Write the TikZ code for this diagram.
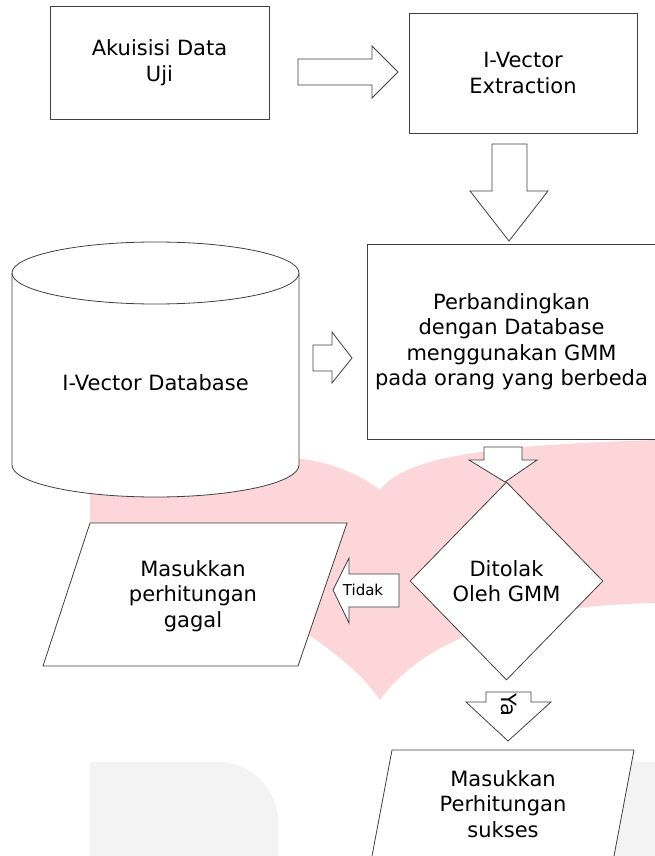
\documentclass[tikz,border=0pt]{standalone}
\usepackage{fontspec}
\setmainfont{DejaVu Sans}
\usetikzlibrary{shapes.geometric}
\definecolor{wmpink}{RGB}{252,214,217}
\definecolor{wmgray}{RGB}{243,243,243}
\tikzset{
	box/.style={draw=black!75, line width=0.8pt, fill=white, align=center, inner sep=2pt},
	blok/.style={draw=black!75, line width=0.8pt, fill=white, line join=miter},
	kecil/.style={font=\fontsize{15}{18}\selectfont},
}

\begin{document}
\begin{tikzpicture}[x=1pt, y=-1pt, font=\fontsize{21}{25.5}\selectfont]
	\useasboundingbox (0,0) rectangle (655,856);
	\clip (0,0) rectangle (655,856);
	\fill[wmpink] (90,485) .. controls (190,465) and (300,430) .. (380,490) .. controls (405,455) and (500,445) .. (655,440) -- (655,603) .. controls (540,605) and (430,630) .. (380,700) .. controls (340,640) and (200,560) .. (90,550) -- cycle;
	\fill[wmgray] (90,900) -- (90,762) -- (218,762) arc[start angle=-90, end angle=0, radius=60] -- (278,900) -- cycle;
	\fill[wmgray] (600,762) rectangle (660,900);

	\node[box, minimum width=219, minimum height=113] (akuisisi) at (159.5,62.5) {Akuisisi Data\\Uji};
	\node[box, minimum width=228, minimum height=120] (ivext) at (523,73) {I-Vector\\Extraction};
	\node[box, minimum width=289, minimum height=195] (banding) at (511.5,341.5) {Perbandingkan\\dengan Database\\menggunakan GMM\\pada orang yang berbeda};
	\node[box, diamond, minimum width=193, minimum height=198, inner sep=0pt] (ditolak) at (506.5,581) {Ditolak\\Oleh GMM};

	\draw[blok] (12,273) -- (12,465) arc[start angle=180, end angle=0, x radius=143.5, y radius=32] -- (299,273);
	\draw[blok] (155.5,273) ellipse[x radius=143.5, y radius=31];
	\node (ivdb) at (155.5,383) {I-Vector Database};

	\draw[blok] (90,523) -- (347,523) -- (298,666) -- (43,666) -- cycle;
	\node[align=center] (gagal) at (193,596) {Masukkan\\perhitungan\\gagal};
	\draw[blok] (392,750) -- (634,750) -- (605.7,900) -- (363.7,900) -- cycle;
	\node[align=center] (sukses) at (503,804) {Masukkan\\Perhitungan\\sukses};

	\draw[blok] (298,59) -- (372,59) -- (372,46) -- (398,72) -- (372,98) -- (372,85) -- (298,85) -- cycle;
	\draw[blok] (492,144) -- (527,144) -- (527,191) -- (548,191) -- (509,241) -- (470,191) -- (492,191) -- cycle;
	\draw[blok] (313,345) -- (332,345) -- (332,332) -- (352,358) -- (332,383) -- (332,371) -- (313,371) -- cycle;
	\draw[blok] (484,447) -- (522,447) -- (522,460) -- (537,460) -- (505,482) -- (469,460) -- (484,460) -- cycle;
	\draw[blok] (399,574) -- (349,574) -- (349,558) -- (333,590) -- (349,623) -- (349,607) -- (399,607) -- cycle;
	\node[kecil] (tidak) at (363,590) {Tidak};
	\draw[blok] (486,692) -- (531,692) -- (531,702) -- (551,702) -- (508,741) -- (466,702) -- (486,702) -- cycle;
	\node[rotate=-90] (ya) at (509,705) {Ya};
\end{tikzpicture}
\end{document}
